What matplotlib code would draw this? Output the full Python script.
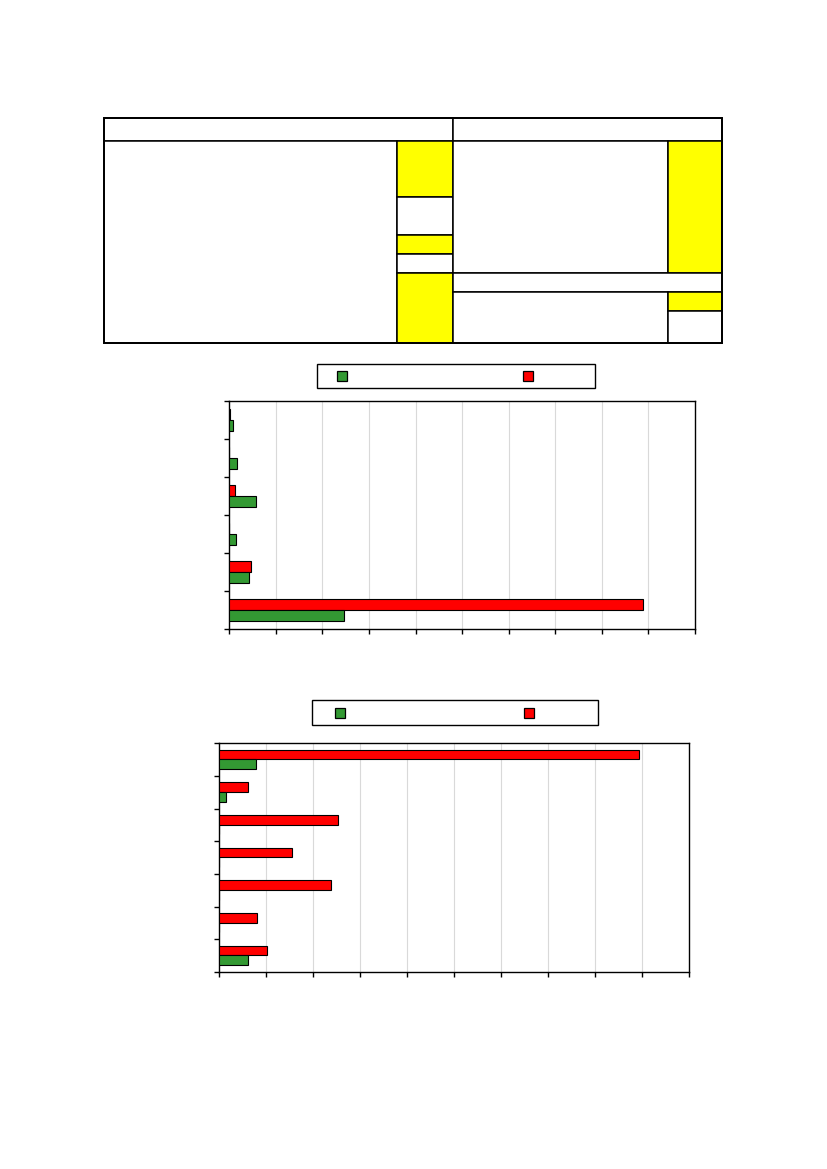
import numpy as np
import matplotlib
matplotlib.use("Agg")
import matplotlib.pyplot as plt
from matplotlib.patches import Rectangle

W, H = 827, 1169

# --- data (no text in the reference) ---
n_top = 6
top_green = [0.09, 0.17, 0.58, 0.15, 0.43, 2.47]
top_red = [0.02, 0.0, 0.13, 0.0, 0.47, 8.89]

n_bottom = 7
bottom_green = [0.79, 0.16, 0.0, 0.0, 0.0, 0.0, 0.62]
bottom_red = [8.93, 0.62, 2.53, 1.55, 2.38, 0.81, 1.02]

x_ticks = np.arange(0, 11)

GREEN = "#339933"
RED = "#ff0000"
YELLOW = "#ffff00"

fig = plt.figure(figsize=(W / 100, H / 100), dpi=100)

# full-page layer in pixel coordinates for the table and the legends
page = fig.add_axes([0, 0, 1, 1])
page.set_xlim(0, W)
page.set_ylim(H, 0)
page.axis("off")


def box(x0, y0, x1, y1, fc="white", lw=1.1):
    page.add_patch(Rectangle((x0, y0), x1 - x0, y1 - y0, facecolor=fc,
                             edgecolor="black", linewidth=lw))


# table at the top
box(104, 118, 453, 141)
box(453, 118, 722, 141)
box(104, 141, 397, 343)
for y0, y1, fc in [(141, 197, YELLOW), (197, 235, "white"), (235, 254, YELLOW),
                   (254, 273, "white"), (273, 343, YELLOW)]:
    box(397, y0, 453, y1, fc=fc)
box(453, 141, 668, 273)
box(668, 141, 722, 273, fc=YELLOW)
box(453, 273, 722, 292)
box(453, 292, 668, 343)
box(668, 292, 722, 311, fc=YELLOW)
box(668, 311, 722, 343)
box(104, 118, 722, 343, fc="none", lw=1.4)


def legend_box(x0, y0, x1, y1, gx, rx):
    box(x0, y0, x1, y1, lw=1.0)
    ym = (y0 + y1) / 2
    for xm, fc in [(gx, GREEN), (rx, RED)]:
        box(xm, ym - 5, xm + 10, ym + 5, fc=fc, lw=0.9)


legend_box(317, 364, 595, 388, 337, 523)
legend_box(312, 700, 598, 725, 335, 524)


def bar_panel(rect, n, green, red, top_gap, h):
    ax = fig.add_axes(rect)
    pos = np.arange(n)
    ax.barh(pos + top_gap + h / 2, red, height=h, color=RED,
            edgecolor="black", linewidth=0.8, zorder=3)
    ax.barh(pos + top_gap + 1.5 * h, green, height=h, color=GREEN,
            edgecolor="black", linewidth=0.8, zorder=3)
    ax.set_xlim(0, 10)
    ax.set_ylim(n, 0)
    ax.set_xticks(x_ticks)
    ax.set_yticks(np.arange(n + 1))
    ax.set_xticklabels([])
    ax.set_yticklabels([])
    ax.tick_params(direction="out", length=3.5, width=1, color="black")
    for x in x_ticks[1:-1]:
        ax.axvline(x, color="#d9d9d9", linewidth=0.8, zorder=1)
    for s in ax.spines.values():
        s.set_linewidth(1)
        s.set_color("black")
    return ax


bar_panel([229.3 / W, 1 - 629.3 / H, 465.7 / W, 228 / H],
          n_top, top_green, top_red, 0.21, 0.29)
bar_panel([218.7 / W, 1 - 972 / H, 470.3 / W, 228.7 / H],
          n_bottom, bottom_green, bottom_red, 0.19, 0.30)

fig.savefig("out.png", dpi=100)
